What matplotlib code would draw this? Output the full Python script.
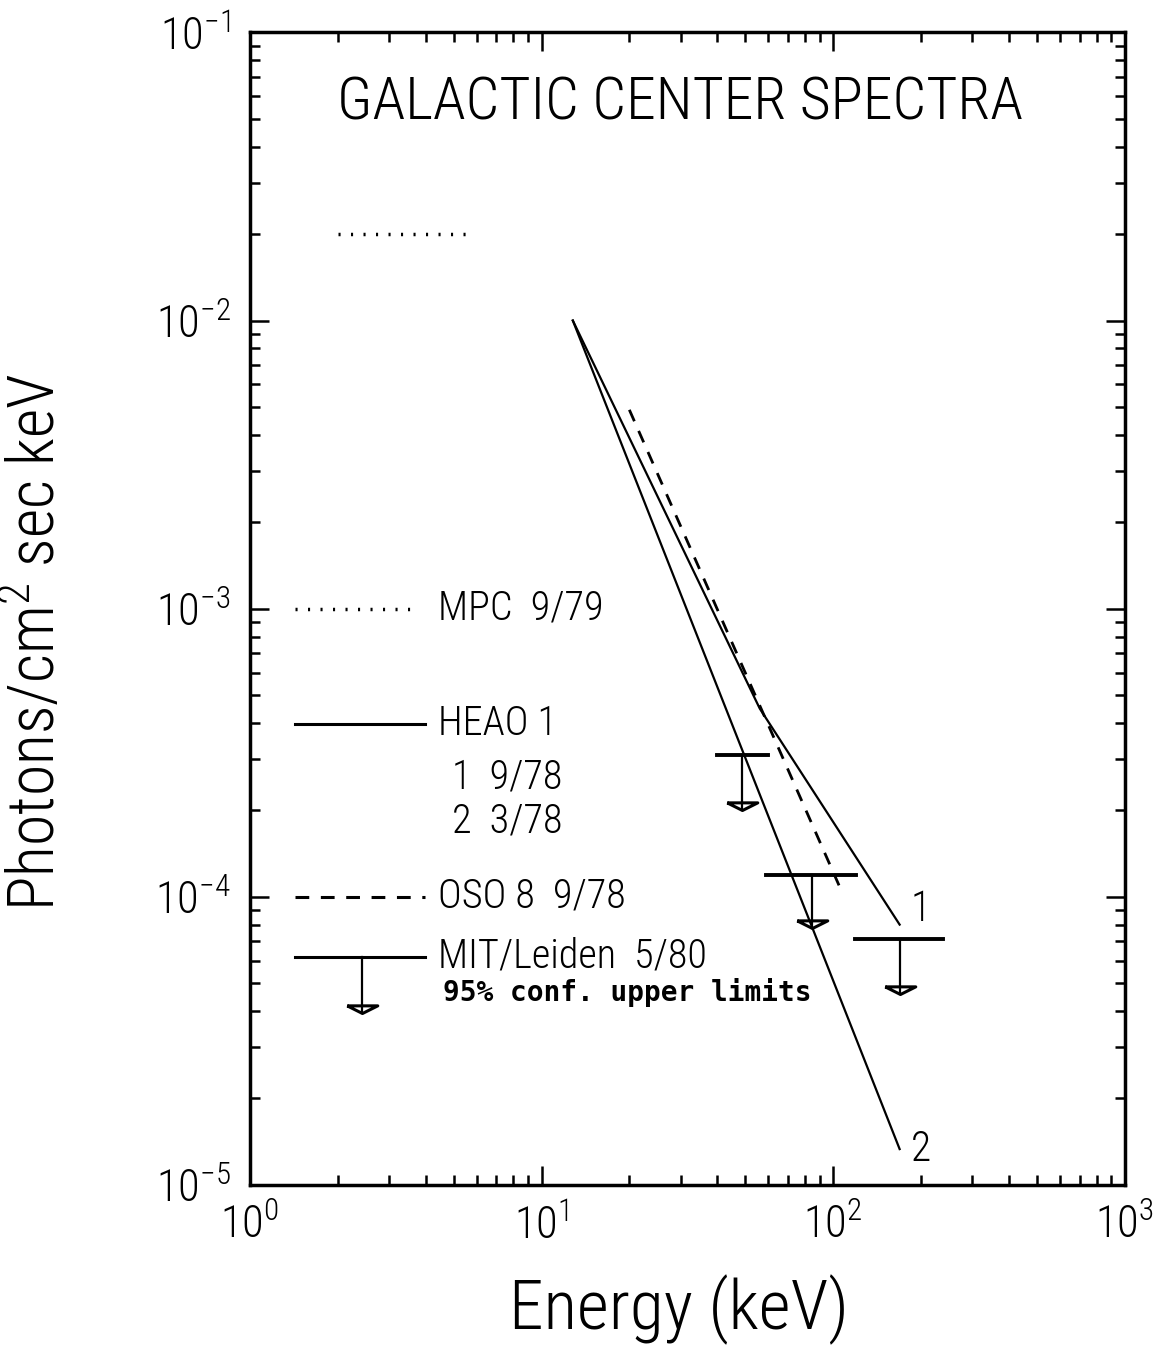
import matplotlib
matplotlib.use('Agg')
import matplotlib.pyplot as plt
import numpy as np

# MPC 9/79 (dotted)
mpc_e = [2.0, 5.8]
mpc_f = [2.0e-2, 2.0e-2]

# HEAO 1, spectrum 1 (9/78) and spectrum 2 (3/78)
heao1_e = [12.8, 56.0, 169.0]
heao1_f = [1.0e-2, 4.5e-4, 8.0e-5]
heao2_e = [12.8, 169.0]
heao2_f = [1.0e-2, 1.33e-5]

# OSO 8 9/78 (dashed)
oso_e = [20.0, 108.0]
oso_f = [4.9e-3, 1.02e-4]

# MIT/Leiden 5/80 upper limits
mit_e = [48.6, 84.5, 169.0]
mit_lo = [40.0, 59.0, 119.0]
mit_hi = [60.0, 120.0, 238.0]
mit_f = [3.1e-4, 1.19e-4, 7.15e-5]
mit_tip = [2.0e-4, 7.8e-5, 4.6e-5]

fam = ['Roboto Condensed', 'DejaVu Sans']
plt.rcParams['font.family'] = fam
plt.rcParams['font.weight'] = 'light'
plt.rcParams['axes.labelweight'] = 'light'
plt.rcParams['mathtext.fontset'] = 'custom'
plt.rcParams['mathtext.rm'] = 'Roboto Condensed:light'
plt.rcParams['mathtext.it'] = 'Roboto Condensed:light'

fig = plt.figure(figsize=(11.68, 13.54), dpi=100)
ax = fig.add_axes([0.214, 0.125, 0.749, 0.851])
ax.set_xscale('log')
ax.set_yscale('log')
ax.set_xlim(1, 1000)
ax.set_ylim(1e-5, 1e-1)

lw = 1.6
dots = (0, (0.6, 3.0))
dashes = (0, (4.5, 3.8))
# triangle marker with its tip at the origin
tri = [(-1, 0.5), (1, 0.5), (0, 0), (-1, 0.5)]

ax.plot(mpc_e, mpc_f, color='black', lw=2.5, linestyle=dots)
ax.plot(heao1_e, heao1_f, color='black', lw=lw)
ax.plot(heao2_e, heao2_f, color='black', lw=lw)
ax.plot(oso_e, oso_f, color='black', lw=lw + 0.4, linestyle=dashes)

for e, lo, hi, f, t in zip(mit_e, mit_lo, mit_hi, mit_f, mit_tip):
    ax.plot([lo, hi], [f, f], color='black', lw=2.8)
    ax.plot([e, e], [f, t], color='black', lw=lw)
    ax.plot([e], [t], marker=tri, markersize=22, markerfacecolor='none',
            markeredgecolor='black', markeredgewidth=2.2)

ax.text(heao1_e[-1] * 1.09, heao1_f[-1] * 0.96, '1', fontsize=30, va='bottom', ha='left')
ax.text(heao2_e[-1] * 1.09, heao2_f[-1], '2', fontsize=30, va='center', ha='left')

# legend drawn inside the axes in axes-fraction coordinates
tr = ax.transAxes
def lx(px):
    return (px - 250) / 875.0
def ly(py):
    return (1185 - py) / 1152.0

lsize = 29
ax.plot([lx(295), lx(410)], [ly(609), ly(609)], transform=tr, color='black', lw=2.5, linestyle=dots)
ax.text(lx(438), ly(609), 'MPC  9/79', transform=tr, fontsize=lsize, va='center')
ax.plot([lx(295), lx(425)], [ly(724), ly(724)], transform=tr, color='black', lw=lw + 0.6)
ax.text(lx(438), ly(724), 'HEAO 1', transform=tr, fontsize=lsize, va='center')
ax.text(lx(452), ly(778), '1  9/78', transform=tr, fontsize=lsize, va='center')
ax.text(lx(452), ly(822), '2  3/78', transform=tr, fontsize=lsize, va='center')
ax.plot([lx(295), lx(425)], [ly(897), ly(897)], transform=tr, color='black', lw=lw + 0.6, linestyle=dashes)
ax.text(lx(438), ly(897), 'OSO 8  9/78', transform=tr, fontsize=lsize, va='center')
ax.plot([lx(295), lx(425)], [ly(957), ly(957)], transform=tr, color='black', lw=lw + 0.6)
ax.plot([lx(362), lx(362)], [ly(957), ly(1013)], transform=tr, color='black', lw=lw)
ax.plot([lx(362)], [ly(1013)], transform=tr, marker=tri, markersize=22, markerfacecolor='none',
        markeredgecolor='black', markeredgewidth=2.2)
ax.text(lx(438), ly(957), 'MIT/Leiden  5/80', transform=tr, fontsize=lsize, va='center')
ax.text(lx(443), ly(993), '95% conf. upper limits', transform=tr, fontsize=20,
        va='center', family='DejaVu Sans Mono', weight='bold')

ax.text(0.492, ly(120), 'GALACTIC CENTER SPECTRA', transform=tr, fontsize=43,
        ha='center', va='baseline')

ax.set_xlabel('Energy (keV)', fontsize=50)
ax.set_ylabel('Photons/cm$^2$ sec keV', fontsize=46)
ax.xaxis.set_label_coords(0.49, -0.078)
ax.yaxis.set_label_coords(-0.208, 0.471)

ax.tick_params(which='both', direction='in', top=True, right=True, width=1.8)
ax.tick_params(which='major', length=14, labelsize=32, pad=14)
ax.tick_params(which='minor', length=7)
for s in ax.spines.values():
    s.set_linewidth(2.5)

fig.savefig('out.png', dpi=100)
